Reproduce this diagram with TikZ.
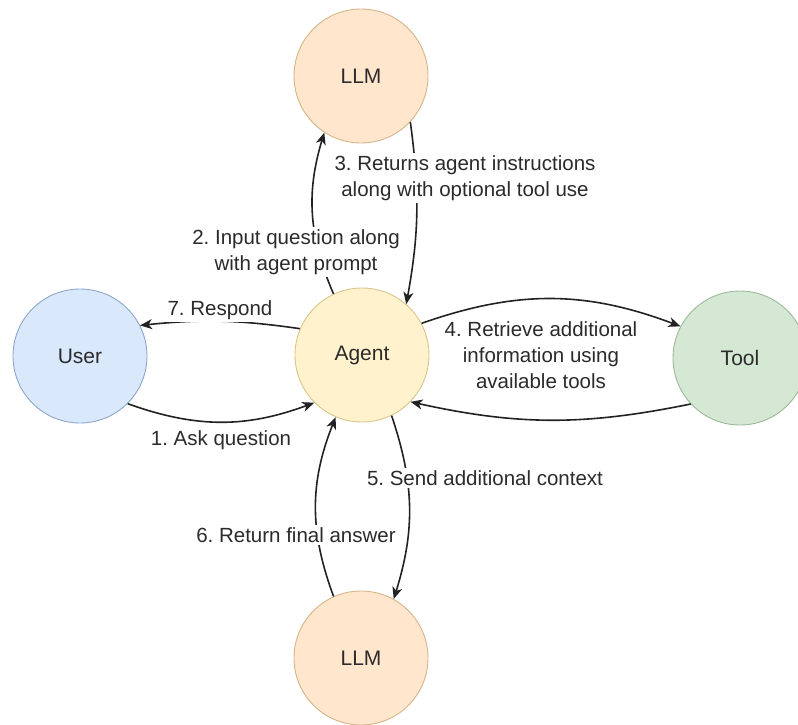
\documentclass[tikz,border=0pt]{standalone}
\usepackage{fontspec}
\setmainfont{Liberation Sans}
\usetikzlibrary{arrows.meta}
\frenchspacing

\definecolor{llmfill}{HTML}{FFE6CC}\definecolor{llmline}{HTML}{D7B48A}
\definecolor{agentfill}{HTML}{FFF2CC}\definecolor{agentline}{HTML}{D9C58A}
\definecolor{userfill}{HTML}{DAE8FC}\definecolor{userline}{HTML}{8FA6C8}
\definecolor{toolfill}{HTML}{D5E8D4}\definecolor{toolline}{HTML}{9DB89A}
\definecolor{ink}{HTML}{2B2B2B}
\definecolor{edgeink}{HTML}{222222}

\tikzset{
  actor/.style={circle, minimum size=134pt, inner sep=0pt, line width=0.9pt,
                font=\fontsize{21}{25}\selectfont, text=ink},
  flow/.style={-{Stealth[length=12pt,width=10pt,inset=3.5pt]}, line width=1.6pt, draw=edgeink},
  lbl/.style={fill=white, inner sep=2pt, align=center,
              font=\fontsize{20.5}{26}\selectfont, text=ink},
}

\begin{document}
\begin{tikzpicture}[x=1pt,y=-1pt]
  \useasboundingbox (0,0) rectangle (798,724);
  \clip (0,0) rectangle (798,724);

  % participants
  \node[actor, fill=llmfill,   draw=llmline]   (llmtop) at (361,76)  {LLM};
  \node[actor, fill=userfill,  draw=userline]  (user)   at (80,356)  {User};
  \node[actor, fill=agentfill, draw=agentline] (agent)  at (362,355) {Agent};
  \node[actor, fill=toolfill,  draw=toolline]  (tool)   at (740,358) {Tool};
  \node[actor, fill=llmfill,   draw=llmline]   (llmbot) at (361,658) {LLM};

  % message flow
  \draw[flow] (user.-45)    to[bend right=20] (agent.225);
  \draw[flow] (agent.115)   to[bend left=20]  (llmtop.237);
  \draw[flow] (llmtop.-43)  to[bend left=9]   (agent.49);
  \draw[flow] (agent.28)    to[bend left=20]  (tool.152);
  \draw[flow] (tool.223)    to[bend left=12]  (agent.-44);
  \draw[flow] (agent.-64)   to[bend left=18]  (llmbot.61);
  \draw[flow] (llmbot.114)  to[bend left=21]  (agent.247);
  \draw[flow] (agent.157)   to[bend right=7]  (user.27);

  % step labels
  \node[lbl] (l1) at (221,440) {1. Ask question};
  \node[lbl] (l2) at (296,252) {2. Input question along\\with agent prompt};
  \node[lbl] (l3) at (465,178) {3. Returns agent instructions\\along with optional tool use};
  \node[lbl] (l4) at (541,355) {4. Retrieve additional\\information using\\available tools};
  \node[lbl] (l5) at (485,478) {5. Send additional context};
  \node[lbl] (l6) at (296,535) {6. Return final answer};
  \node[lbl] (l7) at (220,310) {7. Respond};
\end{tikzpicture}
\end{document}
